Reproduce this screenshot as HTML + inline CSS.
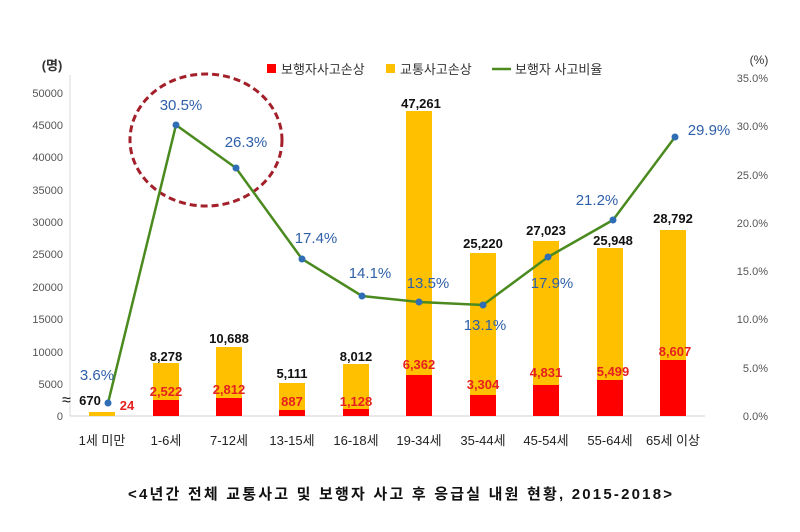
<!DOCTYPE html>
<html><head><meta charset="utf-8"><style>
body{margin:0;background:#fff}
svg text{font-family:"Liberation Sans","Noto Sans CJK KR",sans-serif}
</style></head><body>
<svg width="800" height="527" viewBox="0 0 800 527" xmlns="http://www.w3.org/2000/svg">
<rect width="800" height="527" fill="#fff"/>
<line x1="70" y1="75" x2="70" y2="416" stroke="#d8d8d8"/>
<line x1="70" y1="416" x2="705" y2="416" stroke="#d0d0d0"/>
<g font-size="11" fill="#555" text-anchor="end">
<text x="63" y="420">0</text><text x="63" y="388">5000</text><text x="63" y="356">10000</text><text x="63" y="323">15000</text><text x="63" y="291">20000</text><text x="63" y="258">25000</text><text x="63" y="226">30000</text><text x="63" y="194">35000</text><text x="63" y="161">40000</text><text x="63" y="129">45000</text><text x="63" y="97">50000</text>
</g>
<g font-size="11" fill="#555" text-anchor="end">
<text x="768" y="420">0.0%</text><text x="768" y="372">5.0%</text><text x="768" y="323">10.0%</text><text x="768" y="275">15.0%</text><text x="768" y="227">20.0%</text><text x="768" y="179">25.0%</text><text x="768" y="130">30.0%</text><text x="768" y="82">35.0%</text>
</g>
<text x="52" y="70" font-size="13" fill="#333" text-anchor="middle" font-weight="bold">(명)</text>
<text x="759" y="64" font-size="12" fill="#333" text-anchor="middle">(%)</text>
<rect x="267" y="64" width="9" height="9" fill="#ff0000"/>
<text x="281" y="74" font-size="13" fill="#333">보행자사고손상</text>
<rect x="386" y="64" width="9" height="9" fill="#ffc000"/>
<text x="400" y="74" font-size="13" fill="#333">교통사고손상</text>
<line x1="492" y1="69" x2="511" y2="69" stroke="#4a8a1e" stroke-width="2.5"/>
<text x="515" y="74" font-size="13" fill="#333">보행자 사고비율</text>
<g fill="#ffc000">
<rect x="89" y="412" width="26" height="4"/>
<rect x="153" y="363" width="26" height="53"/>
<rect x="216" y="347" width="26" height="69"/>
<rect x="279" y="383" width="26" height="33"/>
<rect x="343" y="364" width="26" height="52"/>
<rect x="406" y="111" width="26" height="305"/>
<rect x="470" y="253" width="26" height="163"/>
<rect x="533" y="241" width="26" height="175"/>
<rect x="597" y="248" width="26" height="168"/>
<rect x="660" y="230" width="26" height="186"/>
</g>
<g fill="#ff0000">
<rect x="153" y="400" width="26" height="16"/>
<rect x="216" y="398" width="26" height="18"/>
<rect x="279" y="410" width="26" height="6"/>
<rect x="343" y="409" width="26" height="7"/>
<rect x="406" y="375" width="26" height="41"/>
<rect x="470" y="395" width="26" height="21"/>
<rect x="533" y="385" width="26" height="31"/>
<rect x="597" y="380" width="26" height="36"/>
<rect x="660" y="360" width="26" height="56"/>
</g>
<ellipse cx="206" cy="140" rx="76" ry="66" fill="none" stroke="#a3202a" stroke-width="3" stroke-dasharray="7,4"/>
<polyline fill="none" stroke="#4a8a1e" stroke-width="2.5" points="108,403 176,125 236,168 302,259 362,296 419,302 483,305 548,257 613,220 675,137"/>
<g fill="#2f6db5">
<circle cx="108" cy="403" r="3.5"/><circle cx="176" cy="125" r="3.5"/><circle cx="236" cy="168" r="3.5"/><circle cx="302" cy="259" r="3.5"/><circle cx="362" cy="296" r="3.5"/><circle cx="419" cy="302" r="3.5"/><circle cx="483" cy="305" r="3.5"/><circle cx="548" cy="257" r="3.5"/><circle cx="613" cy="220" r="3.5"/><circle cx="675" cy="137" r="3.5"/>
</g>
<g font-size="15" fill="#2e5fa8" text-anchor="middle">
<text x="97" y="380">3.6%</text><text x="181" y="110">30.5%</text><text x="246" y="147">26.3%</text><text x="316" y="243">17.4%</text><text x="370" y="278">14.1%</text><text x="428" y="288">13.5%</text><text x="485" y="330">13.1%</text><text x="552" y="288">17.9%</text><text x="597" y="205">21.2%</text><text x="709" y="135">29.9%</text>
</g>
<g font-size="13" font-weight="bold" fill="#111" text-anchor="middle">
<text x="166" y="361">8,278</text><text x="229" y="343">10,688</text><text x="292" y="378">5,111</text><text x="356" y="361">8,012</text><text x="421" y="108">47,261</text><text x="483" y="248">25,220</text><text x="546" y="235">27,023</text><text x="613" y="245">25,948</text><text x="673" y="223">28,792</text>
<text x="90" y="405">670</text>
</g>
<text x="62" y="405" font-size="16" fill="#111">≈</text>
<g font-size="13" font-weight="bold" fill="#e52020" text-anchor="middle">
<text x="127" y="410">24</text><text x="166" y="396">2,522</text><text x="229" y="394">2,812</text><text x="292" y="406">887</text><text x="356" y="406">1,128</text><text x="419" y="369">6,362</text><text x="483" y="389">3,304</text><text x="546" y="377">4,831</text><text x="613" y="376">5,499</text><text x="675" y="356">8,607</text>
</g>
<g font-size="13" fill="#222" text-anchor="middle">
<text x="102" y="445">1세 미만</text><text x="166" y="445">1-6세</text><text x="229" y="445">7-12세</text><text x="292" y="445">13-15세</text><text x="356" y="445">16-18세</text><text x="419" y="445">19-34세</text><text x="483" y="445">35-44세</text><text x="546" y="445">45-54세</text><text x="610" y="445">55-64세</text><text x="673" y="445">65세 이상</text>
</g>
<text x="400" y="499" font-size="15" font-weight="bold" fill="#111" text-anchor="middle" textLength="544" lengthAdjust="spacing">&lt;4년간 전체 교통사고 및 보행자 사고 후 응급실 내원 현황, 2015-2018&gt;</text>
</svg>
</body></html>
